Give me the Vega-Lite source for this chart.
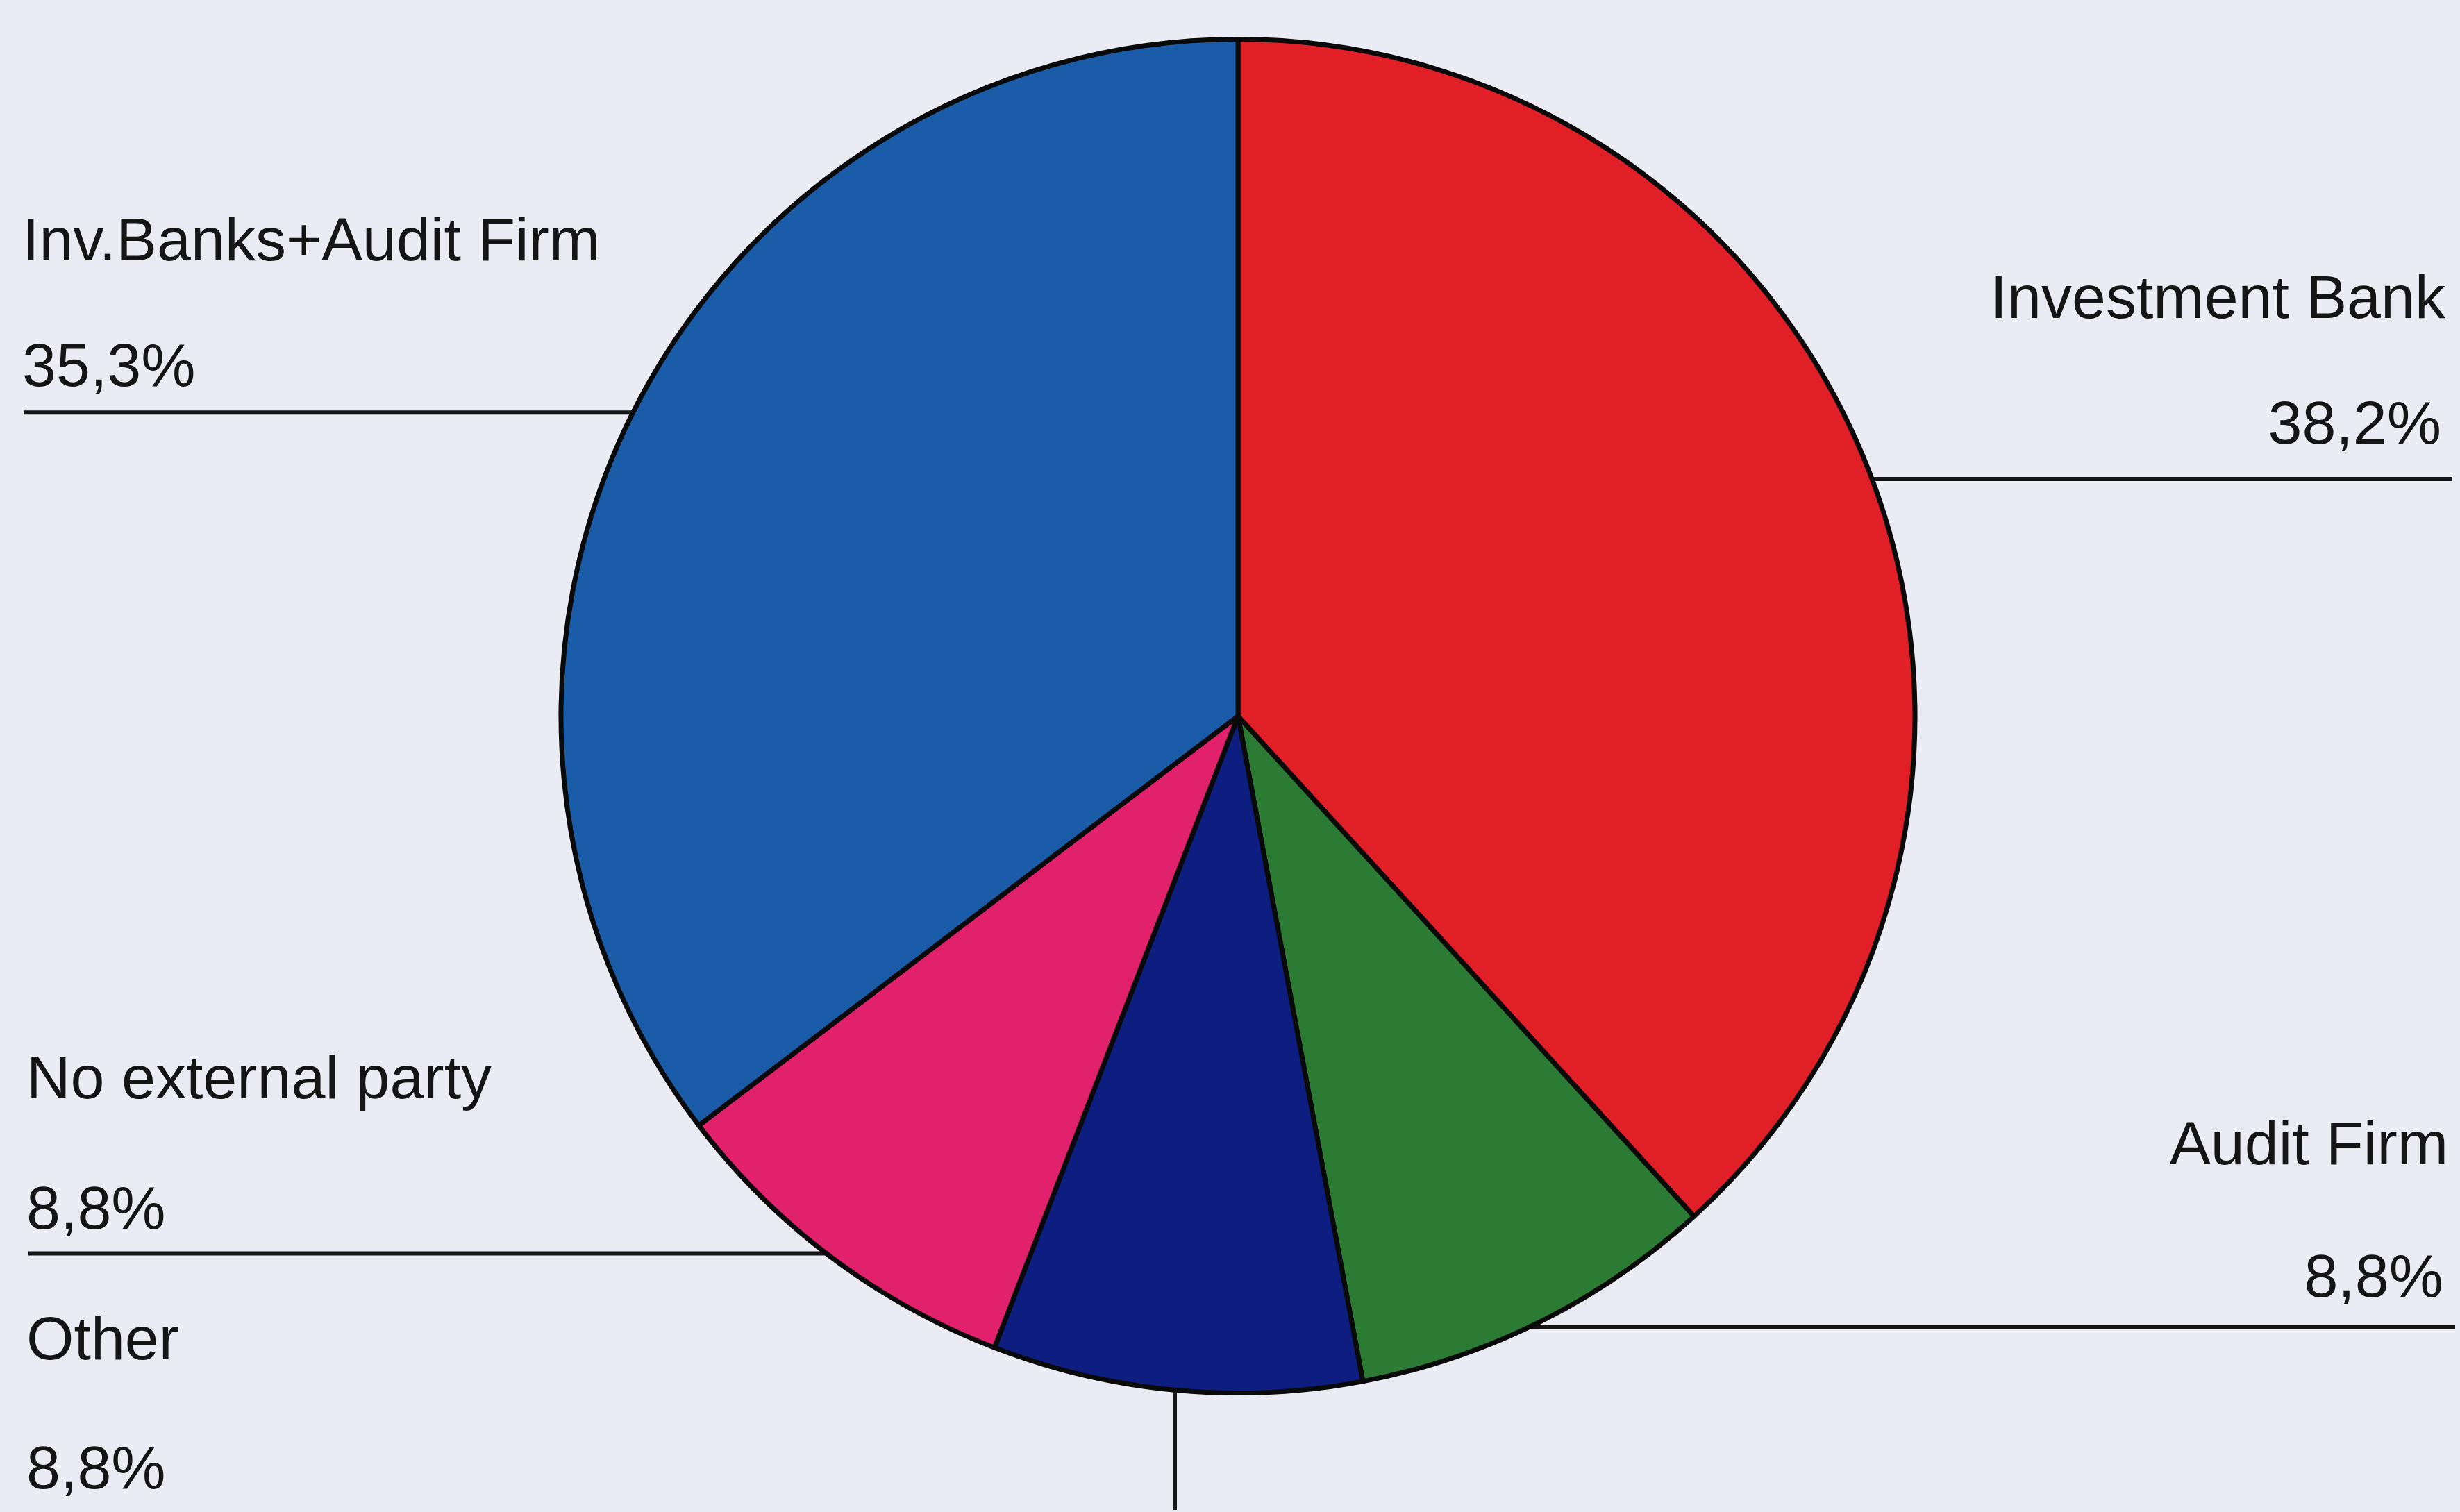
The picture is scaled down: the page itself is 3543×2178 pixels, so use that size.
{
  "$schema": "https://vega.github.io/schema/vega-lite/v6.json",
  "width": 3543,
  "height": 2178,
  "autosize": {"type": "fit", "contains": "padding"},
  "padding": 0,
  "background": "#EBEBF3",
  "config": {
    "view": {"stroke": null},
    "locale": {"number": {"decimal": ",", "thousands": ".", "grouping": [3], "currency": ["", "€"]}},
    "text": {"font": "Liberation Sans", "fontSize": 88, "color": "#151515", "baseline": "alphabetic"},
    "rule": {"strokeWidth": 6, "color": "#151515"}
  },
  "data": {"values": [
    {"category": "Investment Bank", "share": 0.382, "order": 1},
    {"category": "Audit Firm", "share": 0.088, "order": 2},
    {"category": "Other", "share": 0.088, "order": 3},
    {"category": "No external party", "share": 0.088, "order": 4},
    {"category": "Inv.Banks+Audit Firm", "share": 0.353, "order": 5}
  ]},
  "layer": [
    {
      "transform": [{"filter": "datum.category === 'Inv.Banks+Audit Firm'"}],
      "layer": [
        {"mark": "rule", "encoding": {
          "x": {"datum": 34, "type": "quantitative", "scale": {"domain": [0, 3543], "nice": false, "zero": false}, "axis": null},
          "x2": {"datum": 1000},
          "y": {"datum": 595, "type": "quantitative", "scale": {"domain": [0, 2178], "reverse": true, "nice": false, "zero": false}, "axis": null}}},
        {"mark": {"type": "text", "align": "left"}, "encoding": {
          "x": {"datum": 32, "type": "quantitative"},
          "y": {"datum": 376, "type": "quantitative"},
          "text": {"field": "category"}}},
        {"mark": {"type": "text", "align": "left"}, "encoding": {
          "x": {"datum": 32, "type": "quantitative"},
          "y": {"datum": 557, "type": "quantitative"},
          "text": {"field": "share", "type": "quantitative", "format": ".1%"}}}
      ]
    },
    {
      "transform": [{"filter": "datum.category === 'Investment Bank'"}],
      "layer": [
        {"mark": "rule", "encoding": {
          "x": {"datum": 2620, "type": "quantitative"},
          "x2": {"datum": 3532},
          "y": {"datum": 691, "type": "quantitative"}}},
        {"mark": {"type": "text", "align": "right"}, "encoding": {
          "x": {"datum": 3522, "type": "quantitative"},
          "y": {"datum": 459, "type": "quantitative"},
          "text": {"field": "category"}}},
        {"mark": {"type": "text", "align": "right"}, "encoding": {
          "x": {"datum": 3516, "type": "quantitative"},
          "y": {"datum": 640, "type": "quantitative"},
          "text": {"field": "share", "type": "quantitative", "format": ".1%"}}}
      ]
    },
    {
      "transform": [{"filter": "datum.category === 'No external party'"}],
      "layer": [
        {"mark": "rule", "encoding": {
          "x": {"datum": 41, "type": "quantitative"},
          "x2": {"datum": 1300},
          "y": {"datum": 1808, "type": "quantitative"}}},
        {"mark": {"type": "text", "align": "left"}, "encoding": {
          "x": {"datum": 38, "type": "quantitative"},
          "y": {"datum": 1584, "type": "quantitative"},
          "text": {"field": "category"}}},
        {"mark": {"type": "text", "align": "left"}, "encoding": {
          "x": {"datum": 38, "type": "quantitative"},
          "y": {"datum": 1772, "type": "quantitative"},
          "text": {"field": "share", "type": "quantitative", "format": ".1%"}}}
      ]
    },
    {
      "transform": [{"filter": "datum.category === 'Other'"}],
      "layer": [
        {"mark": "rule", "encoding": {
          "x": {"datum": 1692, "type": "quantitative"},
          "y": {"datum": 1900, "type": "quantitative"},
          "y2": {"datum": 2178}}},
        {"mark": {"type": "text", "align": "left"}, "encoding": {
          "x": {"datum": 38, "type": "quantitative"},
          "y": {"datum": 1961, "type": "quantitative"},
          "text": {"field": "category"}}},
        {"mark": {"type": "text", "align": "left"}, "encoding": {
          "x": {"datum": 38, "type": "quantitative"},
          "y": {"datum": 2147, "type": "quantitative"},
          "text": {"field": "share", "type": "quantitative", "format": ".1%"}}}
      ]
    },
    {
      "transform": [{"filter": "datum.category === 'Audit Firm'"}],
      "layer": [
        {"mark": "rule", "encoding": {
          "x": {"datum": 2120, "type": "quantitative"},
          "x2": {"datum": 3536},
          "y": {"datum": 1914, "type": "quantitative"}}},
        {"mark": {"type": "text", "align": "right"}, "encoding": {
          "x": {"datum": 3526, "type": "quantitative"},
          "y": {"datum": 1679, "type": "quantitative"},
          "text": {"field": "category"}}},
        {"mark": {"type": "text", "align": "right"}, "encoding": {
          "x": {"datum": 3519, "type": "quantitative"},
          "y": {"datum": 1871, "type": "quantitative"},
          "text": {"field": "share", "type": "quantitative", "format": ".1%"}}}
      ]
    },
    {
      "mark": {"type": "arc", "outerRadius": 975, "stroke": "#0a0a0a", "strokeWidth": 7, "strokeJoin": "round"},
      "encoding": {
        "theta": {"field": "share", "type": "quantitative", "stack": true},
        "order": {"field": "order", "type": "quantitative"},
        "color": {"field": "category", "type": "nominal", "legend": null,
          "scale": {"domain": ["Investment Bank", "Audit Firm", "Other", "No external party", "Inv.Banks+Audit Firm"],
                    "range": ["#E11F27", "#2B7B34", "#0E1E80", "#E2216D", "#1B5CA8"]}},
        "x": {"datum": 1783, "type": "quantitative"},
        "y": {"datum": 1033, "type": "quantitative"}
      }
    }
  ]
}
